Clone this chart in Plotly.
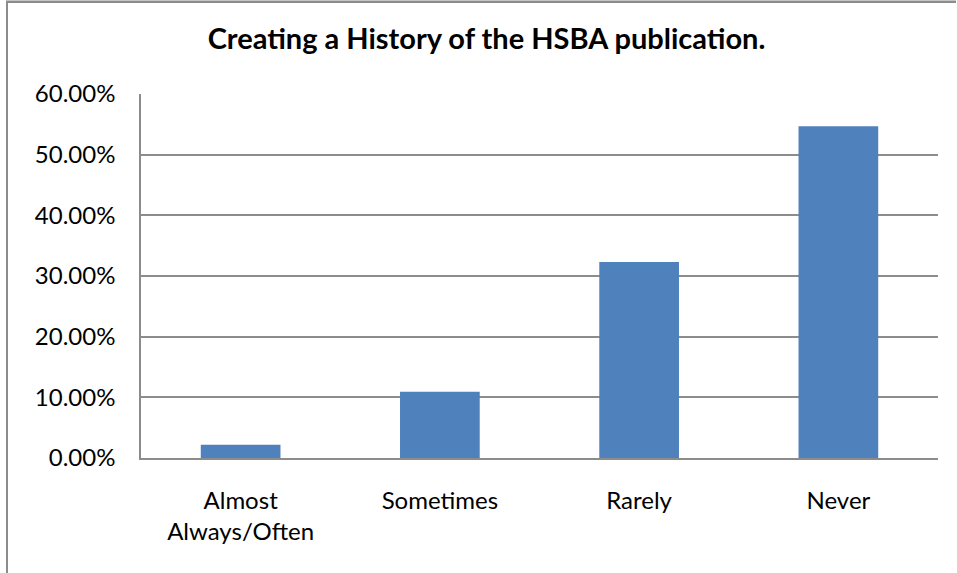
import plotly.graph_objects as go

categories = ["Almost<br>Always/Often", "Sometimes", "Rarely", "Never"]
values = [0.022, 0.109, 0.323, 0.547]
y_ticks = [0, 0.1, 0.2, 0.3, 0.4, 0.5, 0.6]
title_text = "Creating a History of the HSBA publication."

W, H = 957, 573
ML, MR, MT, MB = 141, 19, 94, 115
PW, PH = W - ML - MR, H - MT - MB

def px_to_paper_x(px):
    return (px - ML) / PW

def px_to_paper_y(py):
    return (H - MB - py) / PH

fig = go.Figure(go.Bar(x=categories, y=values, marker=dict(color="#4F81BD", line=dict(width=0))))

grid_col = "#8c8c8c"
border = dict(color="#8c8c8c", width=2)
fig.update_layout(
    width=W, height=H,
    margin=dict(l=ML, r=MR, t=MT, b=MB),
    paper_bgcolor="white", plot_bgcolor="white",
    bargap=0.6,
    showlegend=False,
    font=dict(family="Lato, Calibri, sans-serif", size=24, color="black"),
    title=dict(text="<b>" + title_text + "</b>", x=486.5 / W, xref="container",
               y=1 - 38.5 / H, yref="container", xanchor="center", yanchor="middle",
               font=dict(size=29, family="Lato, Calibri, sans-serif", color="black")),
    xaxis=dict(showline=True, linecolor=grid_col, linewidth=1.5, showgrid=False,
               ticks="", ticklabelstandoff=20, tickfont=dict(size=24)),
    yaxis=dict(range=[0, 0.6], tickvals=y_ticks, tickformat=".2%", showgrid=True,
               gridcolor=grid_col, gridwidth=1.5, showline=True, linecolor=grid_col,
               linewidth=1.5, ticks="", ticklabelstandoff=19, zeroline=False,
               tickfont=dict(size=24)),
    shapes=[
        dict(type="line", xref="paper", yref="paper",
             x0=px_to_paper_x(7), x1=px_to_paper_x(7),
             y0=px_to_paper_y(573), y1=px_to_paper_y(1),
             line=border, layer="above"),
        dict(type="rect", xref="paper", yref="paper",
             x0=px_to_paper_x(6), x1=px_to_paper_x(956),
             y0=px_to_paper_y(3), y1=px_to_paper_y(0.5),
             line=dict(width=0), fillcolor="#8c8c8c", layer="above"),
    ],
)

fig.write_html("out.html", config={"displayModeBar": False},
               post_script="document.body.style.margin='0';")
